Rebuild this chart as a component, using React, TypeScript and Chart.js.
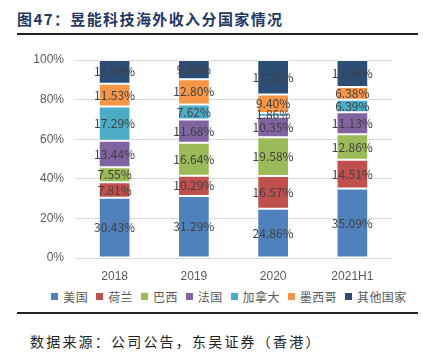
import React, { useEffect, useRef } from "react";
import { Chart, registerables } from "chart.js";

Chart.register(...registerables);

const categories = ["2018", "2019", "2020", "2021H1"];
const seriesNames = ["美国", "荷兰", "巴西", "法国", "加拿大", "墨西哥", "其他国家"];
const usa = [30.43, 31.29, 24.86, 35.09];
const netherlands = [7.81, 10.29, 16.57, 14.51];
const brazil = [7.55, 16.64, 19.58, 12.86];
const france = [13.44, 11.68, 10.35, 11.13];
const canada = [17.29, 7.62, 1.86, 6.39];
const mexico = [11.53, 12.8, 9.4, 6.38];
const others = [11.95, 9.68, 17.38, 13.64];
const yTicks = [0, 20, 40, 60, 80, 100];

const seriesValues = [usa, netherlands, brazil, france, canada, mexico, others];
const colors = ["#4F81BD", "#C0504D", "#9BBB59", "#8064A2", "#4BACC6", "#F79646", "#2C4D75"];

const labelFont = '"Noto Sans CJK SC", "Noto Sans", sans-serif';

const labelPlugin = {
  id: "barLabels",
  afterDatasetsDraw(chart: any) {
    const ctx = chart.ctx;
    ctx.save();
    ctx.font = `12px ${labelFont}`;
    ctx.fillStyle = "#404040";
    ctx.textAlign = "center";
    ctx.textBaseline = "middle";
    chart.data.datasets.forEach((ds: any, i: number) => {
      const meta = chart.getDatasetMeta(i);
      meta.data.forEach((bar: any, j: number) => {
        const v = ds.data[j];
        const y = (bar.y + bar.base) / 2;
        ctx.fillText(v.toFixed(2) + "%", bar.x, y);
      });
    });
    ctx.restore();
  },
};

export default function App() {
  const ref = useRef<HTMLCanvasElement>(null);
  useEffect(() => {
    if (!ref.current) return;
    const chart = new Chart(ref.current, {
      type: "bar",
      data: {
        labels: categories,
        datasets: seriesNames.map((name, i) => ({
          label: name,
          data: seriesValues[i],
          backgroundColor: colors[i],
          borderColor: "rgba(255,255,255,0.7)",
          borderWidth: 1,
          borderSkipped: false,
          barPercentage: 0.4,
          categoryPercentage: 1,
        })),
      },
      options: {
        responsive: false,
        animation: false,
        layout: { padding: { left: 0, right: 31, top: 20, bottom: 0 } },
        plugins: {
          legend: { display: false },
          tooltip: { enabled: false },
        },
        scales: {
          x: {
            stacked: true,
            afterFit: (s: any) => {
              s.height = 30;
            },
            grid: { display: false },
            border: { display: false },
            ticks: { color: "#595959", font: { size: 12, family: '"Liberation Sans", Arial, sans-serif' }, padding: 3 },
          },
          y: {
            stacked: true,
            min: 0,
            max: 100,
            afterFit: (s: any) => {
              s.width = 75;
            },
            afterBuildTicks: (s: any) => {
              s.ticks = yTicks.map((v) => ({ value: v }));
            },
            grid: { color: "#D9D9D9", lineWidth: 1, drawTicks: false },
            border: { display: false },
            ticks: {
              color: "#595959",
              padding: 11,
              font: { size: 12, family: '"Liberation Sans", Arial, sans-serif' },
              callback: (v: any) => v + "%",
            },
          },
        },
      },
      plugins: [labelPlugin],
    });
    return () => chart.destroy();
  }, []);

  return (
    <div
      style={{
        position: "absolute",
        left: 0,
        top: 0,
        width: 423,
        height: 357,
        background: "#fff",
        overflow: "hidden",
      }}
    >
      <div
        style={{
          position: "absolute",
          left: 17,
          top: 9,
          fontFamily: '"Noto Sans CJK SC", serif',
          fontWeight: "bold",
          fontSize: 15,
          color: "#1F3864",
          lineHeight: "20px",
          letterSpacing: 1.4,
        }}
      >
        图47：昱能科技海外收入分国家情况
      </div>
      <div style={{ position: "absolute", left: 17, top: 33, width: 401, height: 2, background: "#222" }} />
      <canvas ref={ref} width={423} height={248} style={{ position: "absolute", left: 0, top: 40 }} />
      <div
        style={{
          position: "absolute",
          left: 0,
          width: 458,
          top: 288,
          height: 16,
          display: "flex",
          justifyContent: "center",
          alignItems: "center",
          fontFamily: labelFont,
          fontSize: 12,
          color: "#595959",
          letterSpacing: 0.4,
          whiteSpace: "nowrap",
        }}
      >
        {seriesNames.map((name, i) => (
          <span key={name} style={{ display: "flex", alignItems: "center", marginLeft: i === 0 ? 0 : 8 }}>
            <span style={{ display: "inline-block", width: 7, height: 7, background: colors[i], marginRight: 5 }} />
            {name}
          </span>
        ))}
      </div>
      <div style={{ position: "absolute", left: 17, top: 312, width: 401, height: 2, background: "#222" }} />
      <div
        style={{
          position: "absolute",
          left: 30,
          top: 331,
          fontFamily: '"Noto Sans CJK SC", serif',
          fontSize: 14,
          color: "#222",
          lineHeight: "20px",
          letterSpacing: 2.2,
        }}
      >
        数据来源：公司公告，东吴证券（香港）
      </div>
    </div>
  );
}
